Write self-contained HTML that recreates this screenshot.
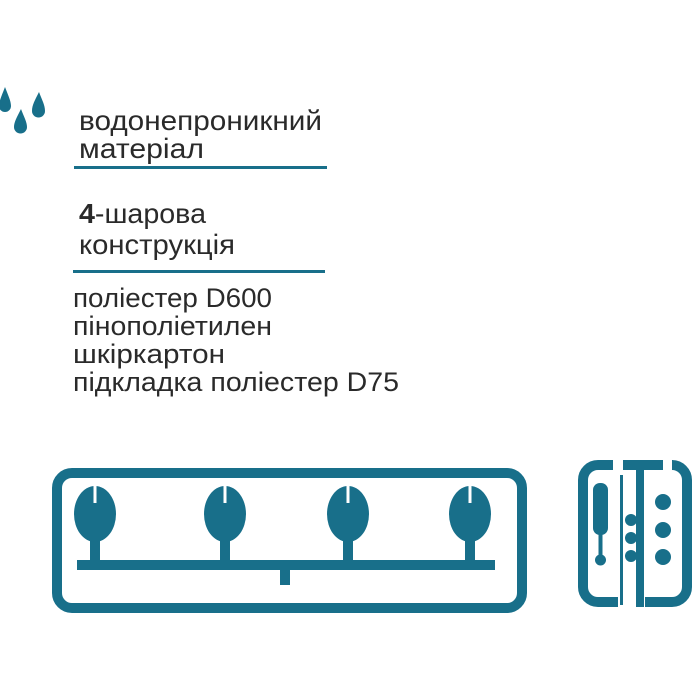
<!DOCTYPE html>
<html><head><meta charset="utf-8"><style>
html,body{margin:0;padding:0;background:#fff;}
svg{display:block}
text{font-family:"Liberation Sans",sans-serif;}
</style></head><body>
<svg width="700" height="700" viewBox="0 0 700 700" xmlns="http://www.w3.org/2000/svg">
<defs>
<g id="b" fill="#186f8a">
<rect x="-5" y="530" width="10" height="32"/>
<ellipse cx="0" cy="514" rx="21" ry="28"/>
<rect x="-1.5" y="484" width="3" height="19" fill="#fff"/>
</g>
</defs>
<g fill="#186f8a">
<path d="M5 87 C8 95 11 101 11 106 A6 6 0 0 1 -1 106 C-1 101 2 95 5 87Z"/>
<path d="M21 109 C24 117 27 122 27 127 A6.5 6.5 0 0 1 14 127 C14 122 17 117 21 109Z"/>
<path d="M39 92 C42 100 45 105 45 111 A6.5 6.5 0 0 1 32 111 C32 105 35 100 39 92Z"/>
</g>
<g fill="#2a2a2a" font-size="28">
<text x="79" y="130" textLength="243" lengthAdjust="spacingAndGlyphs">водонепроникний</text>
<text x="79" y="158" textLength="125" lengthAdjust="spacingAndGlyphs">матеріал</text>
<text x="79" y="223" textLength="127" lengthAdjust="spacingAndGlyphs"><tspan font-weight="bold">4</tspan>-шарова</text>
<text x="79" y="254" textLength="156" lengthAdjust="spacingAndGlyphs">конструкція</text>
</g>
<rect x="74" y="166" width="253" height="3" fill="#186f8a"/>
<rect x="73" y="270" width="252" height="3" fill="#186f8a"/>
<g fill="#2a2a2a" font-size="27">
<text x="73" y="307" textLength="199" lengthAdjust="spacingAndGlyphs">поліестер D600</text>
<text x="73" y="335" textLength="199" lengthAdjust="spacingAndGlyphs">пінополіетилен</text>
<text x="73" y="363" textLength="152" lengthAdjust="spacingAndGlyphs">шкіркартон</text>
<text x="73" y="391" textLength="326" lengthAdjust="spacingAndGlyphs">підкладка поліестер D75</text>
</g>
<rect x="57" y="473" width="465" height="135" rx="15" fill="none" stroke="#186f8a" stroke-width="10"/>
<g fill="#186f8a">
<rect x="77" y="560" width="418" height="10"/>
<rect x="280" y="565" width="10" height="20"/>
</g>
<use href="#b" x="95"/><use href="#b" x="225"/><use href="#b" x="348"/><use href="#b" x="470"/>
<g fill="none" stroke="#186f8a" stroke-width="10">
<path d="M613 465 H598 A15 15 0 0 0 583 480 V587 A15 15 0 0 0 598 602 H618"/>
<path d="M673 465 H672 A15 15 0 0 1 687 480 V587 A15 15 0 0 1 672 602 H645"/>
</g>
<g fill="#186f8a">
<rect x="623" y="460" width="40" height="10"/>
<rect x="636" y="460" width="8" height="147"/>
<rect x="620" y="475" width="3" height="130"/>
<rect x="593" y="483" width="15" height="52" rx="7"/>
<rect x="598.5" y="530" width="4" height="28"/>
<circle cx="600.5" cy="560" r="5.5"/>
<circle cx="631" cy="520" r="6"/><circle cx="631" cy="538" r="6"/><circle cx="631" cy="556" r="6"/>
<circle cx="663" cy="502" r="8"/><circle cx="663" cy="530" r="8"/><circle cx="663" cy="557" r="8"/>
</g>
</svg>
</body></html>
